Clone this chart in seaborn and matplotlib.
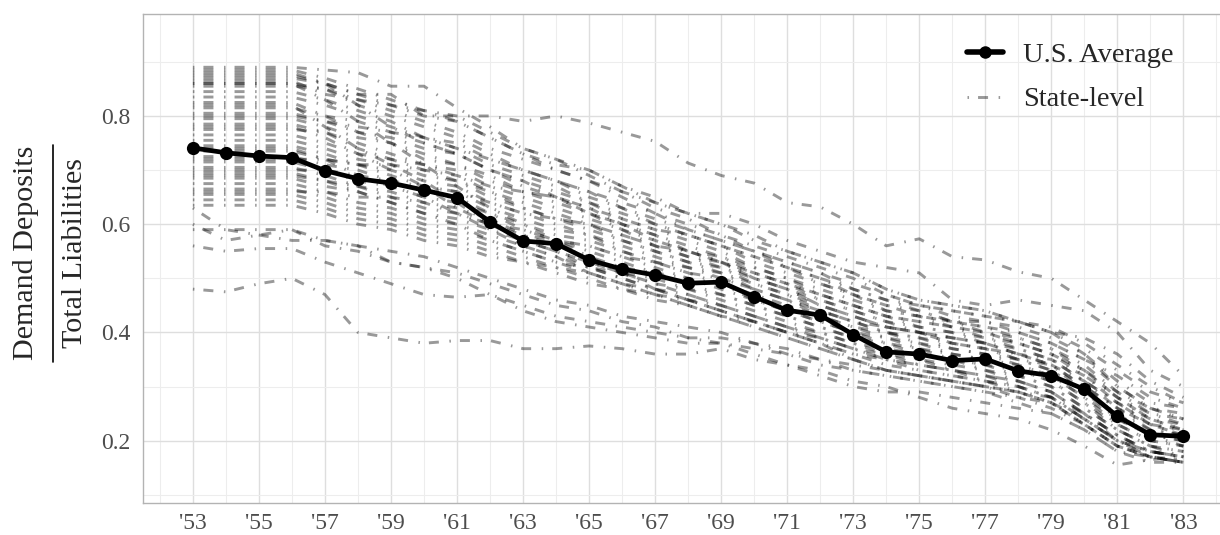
import pandas as pd
import matplotlib
matplotlib.use("Agg")
import matplotlib.pyplot as plt
import seaborn as sns
from matplotlib.lines import Line2D
from matplotlib.ticker import FixedLocator

# --- data ---
years = list(range(1953, 1984))

us_average = [0.741, 0.732, 0.726, 0.723, 0.699, 0.684, 0.676, 0.663, 0.649,
              0.604, 0.569, 0.564, 0.534, 0.517, 0.506, 0.491, 0.493,
              0.466, 0.441, 0.432, 0.396, 0.364, 0.360, 0.348, 0.351,
              0.329, 0.320, 0.295, 0.245, 0.211, 0.208]

# state-level lines (1953-1983), grouped 53-56 | 57-61 | 62-65 | 66-69 | 70-73 | 74-77 | 78-81 | 82-83
st01 = [0.89, 0.89, 0.89, 0.89, 0.885, 0.88, 0.855, 0.855, 0.815, 0.78, 0.74, 0.72, 0.70, 0.67, 0.65, 0.62, 0.60,
        0.58, 0.55, 0.53, 0.51, 0.48, 0.46, 0.45, 0.44, 0.42, 0.40, 0.36, 0.30, 0.26, 0.24]
st02 = [0.87, 0.87, 0.87, 0.87, 0.86, 0.84, 0.82, 0.81, 0.80, 0.80, 0.79, 0.80, 0.787, 0.77, 0.753, 0.713, 0.69,
        0.676, 0.64, 0.632, 0.60, 0.56, 0.573, 0.54, 0.534, 0.512, 0.50, 0.46, 0.42, 0.38, 0.32]
st03 = [0.86, 0.86, 0.86, 0.86, 0.85, 0.83, 0.82, 0.80, 0.79, 0.76, 0.73, 0.70, 0.68, 0.66, 0.64, 0.62, 0.62,
        0.60, 0.57, 0.55, 0.53, 0.52, 0.51, 0.46, 0.45, 0.46, 0.45, 0.44, 0.40, 0.33, 0.30]
st04 = [0.885, 0.885, 0.885, 0.885, 0.87, 0.85, 0.83, 0.81, 0.79, 0.76, 0.73, 0.71, 0.70, 0.67, 0.64, 0.62, 0.60,
        0.57, 0.55, 0.53, 0.51, 0.48, 0.46, 0.45, 0.44, 0.42, 0.41, 0.38, 0.34, 0.30, 0.27]
st05 = [0.875, 0.875, 0.875, 0.875, 0.86, 0.84, 0.84, 0.80, 0.80, 0.77, 0.74, 0.72, 0.69, 0.66, 0.63, 0.61, 0.58,
        0.56, 0.54, 0.52, 0.50, 0.47, 0.45, 0.44, 0.43, 0.42, 0.40, 0.39, 0.36, 0.31, 0.28]
st06 = [0.865, 0.865, 0.865, 0.865, 0.84, 0.83, 0.81, 0.79, 0.77, 0.74, 0.72, 0.70, 0.68, 0.65, 0.62, 0.60, 0.58,
        0.55, 0.53, 0.51, 0.48, 0.46, 0.45, 0.43, 0.42, 0.41, 0.39, 0.36, 0.31, 0.27, 0.26]
st07 = [0.855, 0.855, 0.855, 0.855, 0.85, 0.82, 0.80, 0.78, 0.76, 0.73, 0.70, 0.68, 0.66, 0.63, 0.61, 0.59, 0.57,
        0.55, 0.52, 0.50, 0.48, 0.46, 0.44, 0.42, 0.42, 0.40, 0.38, 0.35, 0.32, 0.28, 0.26]
st08 = [0.845, 0.845, 0.845, 0.845, 0.83, 0.81, 0.79, 0.76, 0.75, 0.72, 0.70, 0.68, 0.65, 0.63, 0.60, 0.58, 0.56,
        0.54, 0.52, 0.49, 0.47, 0.45, 0.44, 0.42, 0.41, 0.39, 0.37, 0.34, 0.29, 0.26, 0.25]
st09 = [0.835, 0.835, 0.835, 0.835, 0.82, 0.80, 0.78, 0.76, 0.74, 0.71, 0.69, 0.67, 0.64, 0.62, 0.60, 0.58, 0.56,
        0.53, 0.51, 0.49, 0.47, 0.44, 0.43, 0.42, 0.40, 0.39, 0.37, 0.33, 0.29, 0.25, 0.24]
st10 = [0.825, 0.825, 0.825, 0.825, 0.80, 0.79, 0.77, 0.75, 0.73, 0.70, 0.68, 0.66, 0.64, 0.61, 0.59, 0.57, 0.55,
        0.52, 0.50, 0.48, 0.46, 0.44, 0.43, 0.41, 0.40, 0.38, 0.36, 0.33, 0.28, 0.25, 0.23]
st11 = [0.815, 0.815, 0.815, 0.815, 0.80, 0.77, 0.76, 0.74, 0.73, 0.70, 0.67, 0.65, 0.63, 0.60, 0.58, 0.56, 0.54,
        0.52, 0.50, 0.47, 0.45, 0.43, 0.42, 0.41, 0.39, 0.38, 0.36, 0.32, 0.28, 0.24, 0.23]
st12 = [0.805, 0.805, 0.805, 0.805, 0.79, 0.77, 0.75, 0.73, 0.71, 0.69, 0.66, 0.65, 0.62, 0.60, 0.58, 0.55, 0.54,
        0.51, 0.49, 0.47, 0.45, 0.43, 0.41, 0.40, 0.39, 0.37, 0.35, 0.31, 0.27, 0.24, 0.22]
st13 = [0.795, 0.795, 0.795, 0.795, 0.78, 0.76, 0.75, 0.72, 0.71, 0.68, 0.66, 0.64, 0.62, 0.59, 0.57, 0.55, 0.53,
        0.51, 0.49, 0.46, 0.44, 0.42, 0.41, 0.40, 0.38, 0.37, 0.35, 0.31, 0.27, 0.23, 0.22]
st14 = [0.785, 0.785, 0.785, 0.785, 0.77, 0.75, 0.73, 0.71, 0.70, 0.67, 0.65, 0.63, 0.61, 0.59, 0.56, 0.54, 0.53,
        0.50, 0.48, 0.46, 0.44, 0.42, 0.40, 0.39, 0.38, 0.36, 0.34, 0.30, 0.26, 0.23, 0.21]
st15 = [0.775, 0.775, 0.775, 0.775, 0.77, 0.74, 0.72, 0.71, 0.69, 0.66, 0.64, 0.62, 0.60, 0.58, 0.56, 0.54, 0.52,
        0.50, 0.48, 0.45, 0.43, 0.41, 0.40, 0.39, 0.38, 0.36, 0.34, 0.30, 0.26, 0.22, 0.21]
st16 = [0.765, 0.765, 0.765, 0.765, 0.75, 0.73, 0.72, 0.70, 0.68, 0.66, 0.63, 0.61, 0.60, 0.57, 0.55, 0.53, 0.52,
        0.49, 0.47, 0.45, 0.43, 0.41, 0.40, 0.38, 0.37, 0.35, 0.34, 0.29, 0.25, 0.22, 0.21]
st17 = [0.755, 0.755, 0.755, 0.755, 0.74, 0.72, 0.71, 0.69, 0.68, 0.65, 0.63, 0.61, 0.59, 0.57, 0.55, 0.53, 0.51,
        0.49, 0.47, 0.44, 0.42, 0.40, 0.39, 0.38, 0.37, 0.35, 0.33, 0.29, 0.25, 0.21, 0.20]
st18 = [0.745, 0.745, 0.745, 0.745, 0.73, 0.71, 0.70, 0.68, 0.67, 0.64, 0.62, 0.60, 0.58, 0.56, 0.54, 0.52, 0.51,
        0.48, 0.46, 0.44, 0.42, 0.40, 0.39, 0.37, 0.36, 0.35, 0.33, 0.29, 0.24, 0.21, 0.20]
st19 = [0.735, 0.735, 0.735, 0.735, 0.72, 0.71, 0.69, 0.67, 0.66, 0.63, 0.61, 0.59, 0.58, 0.55, 0.53, 0.52, 0.50,
        0.48, 0.46, 0.43, 0.41, 0.40, 0.38, 0.37, 0.36, 0.34, 0.32, 0.28, 0.24, 0.21, 0.19]
st20 = [0.725, 0.725, 0.725, 0.725, 0.71, 0.70, 0.68, 0.66, 0.65, 0.62, 0.60, 0.58, 0.57, 0.55, 0.53, 0.51, 0.49,
        0.47, 0.45, 0.43, 0.41, 0.39, 0.38, 0.36, 0.35, 0.34, 0.32, 0.28, 0.23, 0.20, 0.19]
st21 = [0.715, 0.715, 0.715, 0.715, 0.70, 0.68, 0.67, 0.65, 0.64, 0.62, 0.59, 0.57, 0.56, 0.54, 0.52, 0.50, 0.49,
        0.46, 0.44, 0.42, 0.40, 0.39, 0.37, 0.36, 0.35, 0.33, 0.31, 0.27, 0.23, 0.20, 0.19]
st22 = [0.705, 0.705, 0.705, 0.705, 0.69, 0.67, 0.66, 0.64, 0.63, 0.61, 0.58, 0.57, 0.55, 0.53, 0.51, 0.50, 0.48,
        0.46, 0.44, 0.42, 0.40, 0.38, 0.37, 0.35, 0.34, 0.33, 0.31, 0.27, 0.22, 0.19, 0.18]
st23 = [0.695, 0.695, 0.695, 0.695, 0.68, 0.67, 0.65, 0.63, 0.62, 0.60, 0.58, 0.56, 0.54, 0.52, 0.51, 0.49, 0.47,
        0.45, 0.43, 0.41, 0.39, 0.38, 0.36, 0.35, 0.34, 0.32, 0.30, 0.26, 0.22, 0.19, 0.18]
st24 = [0.685, 0.685, 0.685, 0.685, 0.67, 0.66, 0.64, 0.62, 0.61, 0.59, 0.57, 0.55, 0.53, 0.51, 0.50, 0.48, 0.47,
        0.45, 0.43, 0.41, 0.39, 0.37, 0.36, 0.35, 0.33, 0.32, 0.30, 0.26, 0.22, 0.19, 0.17]
st25 = [0.675, 0.675, 0.675, 0.675, 0.66, 0.64, 0.63, 0.61, 0.60, 0.58, 0.56, 0.54, 0.52, 0.51, 0.49, 0.48, 0.46,
        0.44, 0.42, 0.40, 0.38, 0.37, 0.35, 0.34, 0.33, 0.31, 0.29, 0.25, 0.21, 0.18, 0.17]
st26 = [0.665, 0.665, 0.665, 0.665, 0.65, 0.63, 0.62, 0.60, 0.59, 0.57, 0.55, 0.53, 0.52, 0.50, 0.48, 0.47, 0.45,
        0.43, 0.41, 0.40, 0.38, 0.36, 0.35, 0.33, 0.32, 0.31, 0.29, 0.25, 0.21, 0.18, 0.17]
st27 = [0.655, 0.655, 0.655, 0.655, 0.64, 0.62, 0.61, 0.59, 0.58, 0.56, 0.54, 0.52, 0.51, 0.49, 0.48, 0.46, 0.45,
        0.43, 0.41, 0.39, 0.37, 0.36, 0.34, 0.33, 0.32, 0.30, 0.28, 0.24, 0.20, 0.18, 0.17]
st28 = [0.645, 0.645, 0.645, 0.645, 0.63, 0.61, 0.60, 0.58, 0.57, 0.55, 0.53, 0.52, 0.50, 0.48, 0.47, 0.46, 0.44,
        0.42, 0.40, 0.39, 0.37, 0.35, 0.34, 0.33, 0.31, 0.30, 0.28, 0.24, 0.20, 0.17, 0.165]
st29 = [0.635, 0.635, 0.635, 0.635, 0.62, 0.60, 0.59, 0.57, 0.56, 0.54, 0.53, 0.51, 0.49, 0.48, 0.46, 0.45, 0.43,
        0.42, 0.40, 0.38, 0.36, 0.35, 0.33, 0.32, 0.31, 0.29, 0.27, 0.23, 0.19, 0.17, 0.16]
st30 = [0.86, 0.86, 0.86, 0.86, 0.83, 0.79, 0.75, 0.71, 0.67, 0.63, 0.60, 0.57, 0.54, 0.51, 0.48, 0.46, 0.44,
        0.42, 0.40, 0.38, 0.35, 0.33, 0.32, 0.31, 0.30, 0.29, 0.27, 0.23, 0.19, 0.17, 0.16]
st31 = [0.82, 0.82, 0.82, 0.82, 0.78, 0.74, 0.71, 0.68, 0.64, 0.60, 0.57, 0.55, 0.52, 0.50, 0.48, 0.46, 0.44,
        0.42, 0.40, 0.38, 0.36, 0.34, 0.33, 0.32, 0.31, 0.30, 0.28, 0.25, 0.21, 0.18, 0.17]
st32 = [0.72, 0.72, 0.72, 0.72, 0.72, 0.71, 0.71, 0.70, 0.69, 0.67, 0.66, 0.65, 0.63, 0.61, 0.59, 0.58, 0.56,
        0.54, 0.52, 0.50, 0.47, 0.45, 0.43, 0.42, 0.41, 0.40, 0.38, 0.35, 0.30, 0.26, 0.24]
st33 = [0.70, 0.70, 0.70, 0.70, 0.70, 0.69, 0.68, 0.67, 0.66, 0.64, 0.62, 0.61, 0.60, 0.58, 0.56, 0.55, 0.53,
        0.51, 0.49, 0.47, 0.45, 0.43, 0.42, 0.41, 0.40, 0.38, 0.36, 0.33, 0.28, 0.24, 0.22]
st34 = [0.78, 0.78, 0.78, 0.78, 0.76, 0.73, 0.70, 0.67, 0.63, 0.60, 0.57, 0.55, 0.53, 0.51, 0.49, 0.47, 0.45,
        0.43, 0.41, 0.39, 0.37, 0.35, 0.34, 0.33, 0.32, 0.31, 0.29, 0.25, 0.20, 0.17, 0.16]
st35 = [0.66, 0.66, 0.66, 0.66, 0.66, 0.65, 0.65, 0.64, 0.62, 0.60, 0.59, 0.57, 0.56, 0.54, 0.53, 0.51, 0.50,
        0.48, 0.46, 0.44, 0.42, 0.41, 0.40, 0.38, 0.37, 0.36, 0.34, 0.31, 0.26, 0.23, 0.21]
st36 = [0.88, 0.88, 0.88, 0.88, 0.86, 0.82, 0.78, 0.75, 0.73, 0.70, 0.68, 0.65, 0.62, 0.60, 0.57, 0.55, 0.53,
        0.50, 0.48, 0.45, 0.43, 0.41, 0.40, 0.39, 0.38, 0.36, 0.35, 0.32, 0.27, 0.23, 0.22]
st37 = [0.80, 0.80, 0.80, 0.80, 0.79, 0.78, 0.77, 0.76, 0.74, 0.72, 0.70, 0.68, 0.66, 0.64, 0.62, 0.59, 0.57,
        0.55, 0.53, 0.51, 0.49, 0.47, 0.45, 0.44, 0.43, 0.42, 0.40, 0.37, 0.33, 0.29, 0.27]
st38 = [0.74, 0.74, 0.74, 0.74, 0.72, 0.69, 0.67, 0.65, 0.62, 0.59, 0.56, 0.54, 0.51, 0.49, 0.47, 0.45, 0.43,
        0.41, 0.39, 0.37, 0.35, 0.33, 0.32, 0.31, 0.30, 0.28, 0.27, 0.23, 0.19, 0.17, 0.16]
st39 = [0.69, 0.69, 0.69, 0.69, 0.68, 0.66, 0.64, 0.62, 0.60, 0.57, 0.55, 0.53, 0.51, 0.49, 0.47, 0.45, 0.43,
        0.41, 0.39, 0.37, 0.35, 0.33, 0.32, 0.31, 0.30, 0.29, 0.28, 0.24, 0.20, 0.18, 0.17]
st40 = [0.48, 0.475, 0.49, 0.50, 0.47, 0.40, 0.39, 0.38, 0.385, 0.385, 0.37, 0.37, 0.375, 0.37, 0.36, 0.36, 0.37,
        0.35, 0.34, 0.33, 0.31, 0.30, 0.28, 0.26, 0.25, 0.24, 0.22, 0.19, 0.155, 0.165, 0.17]
st41 = [0.56, 0.55, 0.555, 0.555, 0.53, 0.51, 0.49, 0.47, 0.465, 0.47, 0.45, 0.43, 0.42, 0.41, 0.40, 0.39, 0.39,
        0.38, 0.36, 0.35, 0.33, 0.32, 0.31, 0.30, 0.29, 0.27, 0.25, 0.22, 0.18, 0.17, 0.16]
st42 = [0.59, 0.59, 0.59, 0.59, 0.57, 0.56, 0.55, 0.54, 0.52, 0.50, 0.48, 0.46, 0.45, 0.43, 0.42, 0.41, 0.40,
        0.38, 0.37, 0.35, 0.34, 0.33, 0.32, 0.31, 0.30, 0.29, 0.27, 0.24, 0.20, 0.18, 0.17]
st43 = [0.63, 0.59, 0.58, 0.57, 0.57, 0.56, 0.53, 0.52, 0.51, 0.49, 0.47, 0.45, 0.44, 0.42, 0.41, 0.39, 0.38,
        0.37, 0.36, 0.34, 0.33, 0.32, 0.31, 0.30, 0.29, 0.28, 0.26, 0.23, 0.19, 0.17, 0.16]
st44 = [0.60, 0.57, 0.58, 0.59, 0.56, 0.55, 0.53, 0.52, 0.50, 0.47, 0.44, 0.42, 0.41, 0.40, 0.39, 0.38, 0.38,
        0.36, 0.34, 0.32, 0.30, 0.29, 0.29, 0.28, 0.27, 0.26, 0.25, 0.22, 0.18, 0.16, 0.16]

state_series = [st01, st02, st03, st04, st05, st06, st07, st08, st09, st10, st11,
                st12, st13, st14, st15, st16, st17, st18, st19, st20, st21, st22,
                st23, st24, st25, st26, st27, st28, st29, st30, st31, st32, st33,
                st34, st35, st36, st37, st38, st39, st40, st41, st42, st43, st44]

tick_years = list(range(1953, 1984, 2))
tick_labels = [f"'{y % 100}" for y in tick_years]

# long table for seaborn
rows = []
for i, vals in enumerate(state_series):
    assert len(vals) == len(years), i
    for yr, v in zip(years, vals):
        rows.append((i, yr, v))
states = pd.DataFrame(rows, columns=["state", "year", "ratio"])

sns.set_style("white")
plt.rcParams["font.family"] = "serif"
plt.rcParams["font.serif"] = ["Liberation Serif", "DejaVu Serif"]
plt.rcParams["lines.scale_dashes"] = False

DOTDASH = (0, (1.1, 6.5, 7.2, 7.6))

fig = plt.figure(figsize=(12.2, 5.35), dpi=100)
ax = fig.add_axes([0.1175, 0.0604, 0.8931, 0.9135])

sns.lineplot(data=states, x="year", y="ratio", units="state", estimator=None,
             color="black", alpha=0.4, linewidth=2.1, linestyle=DOTDASH,
             legend=False, ax=ax)
sns.lineplot(x=years, y=us_average, color="black", linewidth=3.4,
             marker="o", markersize=9.5, markeredgewidth=0, legend=False, ax=ax)

ax.set_xlim(1951.5, 1984.5)
ax.set_ylim(0.0854, 0.9885)
ax.xaxis.set_major_locator(FixedLocator(tick_years))
ax.xaxis.set_minor_locator(FixedLocator(list(range(1952, 1985, 2))))
ax.set_xticklabels(tick_labels)
ax.yaxis.set_major_locator(FixedLocator([0.2, 0.4, 0.6, 0.8]))
ax.yaxis.set_minor_locator(FixedLocator([0.1, 0.3, 0.5, 0.7, 0.9]))
ax.set_yticklabels(["0.2", "0.4", "0.6", "0.8"])

ax.set_axisbelow(True)
ax.grid(which="major", color="#dedede", linewidth=1.0)
ax.grid(which="minor", color="#ededed", linewidth=0.8)
for sp in ax.spines.values():
    sp.set_visible(True)
    sp.set_color("#b3b3b3")
    sp.set_linewidth(1.0)

ax.tick_params(which="major", length=4.8, width=1.0, color="#b3b3b3",
               labelsize=17, labelcolor="#4d4d4d")
ax.tick_params(axis="x", which="major", pad=2.5)
ax.tick_params(axis="y", which="major", pad=4.6)
ax.tick_params(which="minor", length=0)
ax.set_xlabel("")
ax.set_ylabel("")

# y label drawn as a fraction
fig.text(26.3 / 1220, 0.528, "Demand Deposits", rotation=90, ha="center", va="center", fontsize=21.6)
fig.text(74.7 / 1220, 0.528, "Total Liabilities", rotation=90, ha="center", va="center", fontsize=21.6)
fig.add_artist(Line2D([53.2 / 1220, 53.2 / 1220], [0.3234, 0.729], transform=fig.transFigure,
                      color="black", linewidth=1.2))

handles = [
    Line2D([], [], color="black", linewidth=4, marker="o", markersize=9, markeredgewidth=0),
    Line2D([], [], color="black", alpha=0.4, linewidth=2.1, linestyle=DOTDASH),
]
ax.legend(handles, ["U.S. Average", "State-level"], loc="upper left",
          bbox_to_anchor=(0.756, 0.943), frameon=False, fontsize=20.5,
          handlelength=1.25, handletextpad=0.72, labelspacing=0.66,
          borderaxespad=0, borderpad=0)

fig.savefig("out.png", dpi=100)
